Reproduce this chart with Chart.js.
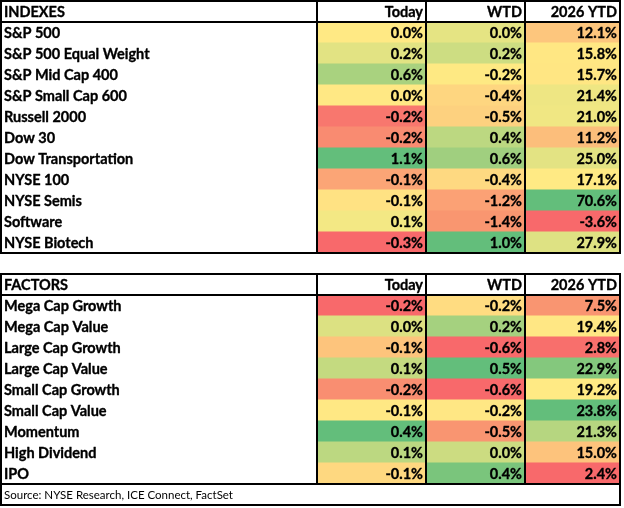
<!DOCTYPE html>
<html><head><meta charset="utf-8">
<script src="https://cdn.jsdelivr.net/npm/chart.js@4/dist/chart.umd.min.js"></script>
<style>html,body{margin:0;padding:0;background:#fff}#wrap{width:624px;height:508px;position:relative}</style>
</head><body><div id="wrap"><canvas id="c"></canvas></div>
<script>
// ---------- data ----------
const columnHeaders = ["Today", "WTD", "2026 YTD"];
const indexTitle = "INDEXES";
const indexNames = ["S&P 500", "S&P 500 Equal Weight", "S&P Mid Cap 400", "S&P Small Cap 600", "Russell 2000", "Dow 30", "Dow Transportation", "NYSE 100", "NYSE Semis", "Software", "NYSE Biotech"];
const indexToday = [0.0, 0.2, 0.6, 0.0, -0.2, -0.2, 1.1, -0.1, -0.1, 0.1, -0.3];
const indexWTD   = [0.0, 0.2, -0.2, -0.4, -0.5, 0.4, 0.6, -0.4, -1.2, -1.4, 1.0];
const indexYTD   = [12.1, 15.8, 15.7, 21.4, 21.0, 11.2, 25.0, 17.1, 70.6, -3.6, 27.9];
const factorTitle = "FACTORS";
const factorNames = ["Mega Cap Growth", "Mega Cap Value", "Large Cap Growth", "Large Cap Value", "Small Cap Growth", "Small Cap Value", "Momentum", "High Dividend", "IPO"];
const factorToday = [-0.2, 0.0, -0.1, 0.1, -0.2, -0.1, 0.4, 0.1, -0.1];
const factorWTD   = [-0.2, 0.2, -0.6, 0.5, -0.6, -0.2, -0.5, 0.0, 0.4];
const factorYTD   = [7.5, 19.4, 2.8, 22.9, 19.2, 23.8, 21.3, 15.0, 2.4];
const sourceNote = "Source: NYSE Research, ICE Connect, FactSet";

// ---------- styles (cell fills) ----------
const indexTodayColors = ["#FFE984","#E2E383","#A9D27F","#FFE884","#F8776E","#F98B71","#63BE7B","#FBA576","#FFE283","#F3E884","#F8696B"];
const indexWTDColors   = ["#E5E483","#CDDD82","#FEE983","#FED680","#FDD17F","#BCD881","#A0CF7F","#FED981","#FBA175","#F99670","#63BE7B"];
const indexYTDColors   = ["#FDC67D","#FFE783","#FFE683","#EEE683","#F0E783","#FCBE7B","#E3E383","#FFEA84","#63BE7B","#F8696B","#DEE283"];
const factorTodayColors = ["#F8696B","#DCE182","#FDC47C","#C4DA80","#F98E71","#FFE884","#63BE7B","#BCD881","#FED880"];
const factorWTDColors   = ["#FFDC81","#A5D17F","#F8696B","#63BE7B","#F8696B","#FFE784","#F99571","#CCDC81","#7AC57C"];
const factorYTDColors   = ["#F99571","#FFE784","#F86F6C","#84C87D","#FFEA84","#63BE7B","#B6D680","#FDC37C","#F8696B"];

const colWidths = [316, 109, 99, 95];
const FONT = "Lato";
const boldFont = "bold 14.5px " + FONT;
const srcFont = "11.5px " + FONT;

// ---------- build rows ----------
const rows = [];
function addTable(title, names, vals, cols) {
  rows.push({type: "header", label: title});
  names.forEach((n, i) => rows.push({type: "data", label: n,
    vals: vals.map(v => v[i]), colors: cols.map(c => c[i])}));
}
addTable(indexTitle, indexNames, [indexToday, indexWTD, indexYTD], [indexTodayColors, indexWTDColors, indexYTDColors]);
rows.push({type: "gap", label: ""});
addTable(factorTitle, factorNames, [factorToday, factorWTD, factorYTD], [factorTodayColors, factorWTDColors, factorYTDColors]);
rows.push({type: "source", label: sourceNote});

const labels = rows.map((r, i) => r.label || ("row" + i));
const datasets = colWidths.map((w, k) => ({
  label: k === 0 ? "name" : columnHeaders[k - 1],
  data: rows.map(r => (r.type === "header" || r.type === "data") ? w : 0),
  backgroundColor: rows.map(r => (k > 0 && r.type === "data") ? r.colors[k - 1] : "#FFFFFF"),
  borderWidth: 0,
  barPercentage: 1,
  categoryPercentage: 1,
  inflateAmount: 0.6
}));
const totalWidth = colWidths.reduce((a, b) => a + b, 0);

const fmt = v => v.toFixed(1) + "%";

const tablePlugin = {
  id: "tablePlugin",
  afterDatasetsDraw(chart) {
    const ctx = chart.ctx;
    const xs = chart.scales.x, ys = chart.scales.y;
    const half = (ys.getPixelForValue(1) - ys.getPixelForValue(0)) / 2;
    const edges = [0];
    colWidths.forEach(w => edges.push(edges[edges.length - 1] + w));
    const ex = edges.map(e => Math.round(xs.getPixelForValue(e)));
    const top = i => Math.round(ys.getPixelForValue(i) - half);
    const bot = i => Math.round(ys.getPixelForValue(i) + half);

    ctx.save();
    ctx.fillStyle = "#000";
    ctx.strokeStyle = "#000";
    ctx.lineJoin = "round";
    ctx.textBaseline = "middle";
    const boldText = (t, x, y) => { ctx.fillText(t, x, y); ctx.lineWidth = 0.35; ctx.strokeText(t, x, y); };
    rows.forEach((r, i) => {
      const y = ys.getPixelForValue(i) + 0.5;
      if (r.type === "header" || r.type === "data") {
        ctx.font = boldFont;
        ctx.textAlign = "left";
        boldText(r.label, ex[0] + 3, y);
        ctx.textAlign = "right";
        for (let k = 1; k <= 3; k++) {
          const t = r.type === "header" ? columnHeaders[k - 1] : fmt(r.vals[k - 1]);
          boldText(t, ex[k + 1] - 3, y);
        }
      } else if (r.type === "source") {
        ctx.font = srcFont;
        ctx.textAlign = "left";
        ctx.fillText(r.label, ex[0] + 3, y);
      }
    });

    ctx.lineWidth = 2;
    ctx.lineJoin = "miter";
    const line = (x1, y1, x2, y2) => { ctx.beginPath(); ctx.moveTo(x1, y1); ctx.lineTo(x2, y2); ctx.stroke(); };
    const headerIdx = rows.map((r, i) => r.type === "header" ? i : -1).filter(i => i >= 0);
    headerIdx.forEach(h => {
      let last = h;
      while (last + 1 < rows.length && rows[last + 1].type === "data") last++;
      const hasSource = last + 1 < rows.length && rows[last + 1].type === "source";
      const yTop = top(h), yHead = bot(h), yData = bot(last);
      const yBottom = hasSource ? bot(last + 1) : yData;
      ctx.strokeRect(ex[0], yTop, ex[4] - ex[0], yBottom - yTop);
      line(ex[0], yHead, ex[4], yHead);
      if (hasSource) line(ex[0], yData, ex[4], yData);
      for (let k = 1; k <= 3; k++) line(ex[k], yTop, ex[k], yData);
    });
    ctx.restore();
  }
};

new Chart(document.getElementById("c"), {
  type: "bar",
  data: {labels, datasets},
  options: {
    indexAxis: "y",
    responsive: true,
    maintainAspectRatio: false,
    animation: false,
    layout: {padding: {left: 1, right: 4, top: 1, bottom: 3}},
    scales: {
      x: {type: "linear", stacked: true, min: 0, max: totalWidth, display: false},
      y: {type: "category", stacked: true, display: false}
    },
    plugins: {legend: {display: false}, tooltip: {enabled: false}}
  },
  plugins: [tablePlugin]
});
</script>
</body></html>
